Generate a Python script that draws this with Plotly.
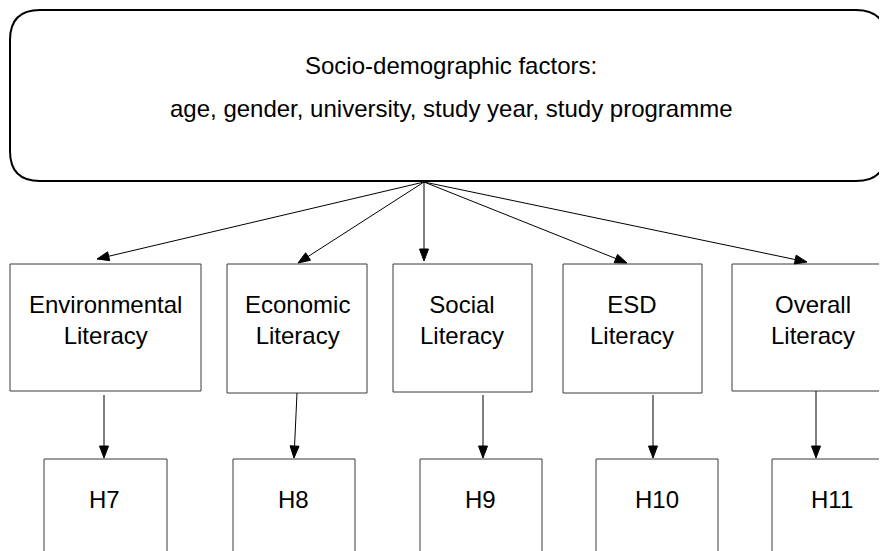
import math
import plotly.graph_objects as go

# ---- content ----
header_lines = ["Socio-demographic factors:",
                "age, gender, university, study year, study programme"]
literacy_labels = ["Environmental<br>Literacy", "Economic<br>Literacy", "Social<br>Literacy",
                   "ESD<br>Literacy", "Overall<br>Literacy"]
hypothesis_labels = ["H7", "H8", "H9", "H10", "H11"]

# ---- layout (pixel space, y downwards) ----
W, H = 887, 551
PAGE_OFFSET = 8  # default body margin of the html page
top_box = (10, 886, 10, 181)
top_radius = 30
header_y = [65, 108]
header_x = 451
mid_boxes = [(10, 201, 264, 391), (227, 367, 264, 393), (393, 532, 264, 392),
             (563, 702, 264, 393), (732, 893, 264, 391)]
mid_text_x = [105, 297, 462, 632, 813]
mid_text_y = 320
bot_boxes = [(44, 167, 459, 570), (233, 355, 459, 570), (420, 542, 459, 570),
             (596, 718, 459, 570), (772, 893, 459, 570)]
bot_text_x = [104, 293, 480, 657, 832]
bot_text_y = 499
fan_origin = (424, 182)
fan_tips = [(97, 259), (298, 263), (424, 261), (627, 263), (807, 262)]
down_arrows = [((104, 395), (104, 458)), ((297, 393), (294, 458)), ((483, 395), (483, 458)),
               ((653, 395), (653, 458)), ((816, 391), (816, 458))]

FONT = "Liberation Sans, Arial, sans-serif"
FS = 24
shapes = []
annotations = []

def rounded_rect(x0, x1, y0, y1, r):
    return (f"M {x0+r},{y0} L {x1-r},{y0} Q {x1},{y0} {x1},{y0+r} "
            f"L {x1},{y1-r} Q {x1},{y1} {x1-r},{y1} L {x0+r},{y1} "
            f"Q {x0},{y1} {x0},{y1-r} L {x0},{y0+r} Q {x0},{y0} {x0+r},{y0} Z")

shapes.append(dict(type="path", path=rounded_rect(*top_box, top_radius), xref="x", yref="y",
                   line=dict(color="#000000", width=2), fillcolor="rgba(0,0,0,0)", layer="above"))

for (x0, x1, y0, y1) in mid_boxes + bot_boxes:
    shapes.append(dict(type="rect", x0=x0, x1=x1, y0=y0, y1=y1, xref="x", yref="y",
                       line=dict(color="#3a3a3a", width=1), fillcolor="rgba(0,0,0,0)"))

def arrow(p0, p1, head_len=12, head_half=4.5):
    (x0, y0), (x1, y1) = p0, p1
    dx, dy = x1 - x0, y1 - y0
    d = math.hypot(dx, dy)
    ux, uy = dx / d, dy / d
    bx, by = x1 - ux * head_len, y1 - uy * head_len
    px, py = -uy, ux
    shapes.append(dict(type="line", x0=x0, y0=y0, x1=bx, y1=by, xref="x", yref="y",
                       line=dict(color="#000000", width=1)))
    path = (f"M {x1},{y1} L {bx + px*head_half},{by + py*head_half} "
            f"L {bx - px*head_half},{by - py*head_half} Z")
    shapes.append(dict(type="path", path=path, xref="x", yref="y",
                       line=dict(color="#000000", width=1), fillcolor="#000000"))

for tip in fan_tips:
    arrow(fan_origin, tip)
for p0, p1 in down_arrows:
    arrow(p0, p1)

for txt, y in zip(header_lines, header_y):
    annotations.append(dict(text=txt, x=header_x, y=y, xref="x", yref="y", showarrow=False,
                            xanchor="center", yanchor="middle",
                            font=dict(family=FONT, size=FS, color="#000000")))
for txt, x in zip(literacy_labels, mid_text_x):
    annotations.append(dict(text=txt, x=x, y=mid_text_y, xref="x", yref="y", showarrow=False,
                            xanchor="center", yanchor="middle", align="center",
                            font=dict(family=FONT, size=FS, color="#000000")))
for txt, x in zip(hypothesis_labels, bot_text_x):
    annotations.append(dict(text=txt, x=x, y=bot_text_y, xref="x", yref="y", showarrow=False,
                            xanchor="center", yanchor="middle",
                            font=dict(family=FONT, size=FS, color="#000000")))

fig = go.Figure()
fig.update_layout(
    width=W - PAGE_OFFSET, height=H - PAGE_OFFSET, margin=dict(l=0, r=0, t=0, b=0),
    paper_bgcolor="white", plot_bgcolor="white",
    xaxis=dict(range=[PAGE_OFFSET, W], visible=False, fixedrange=True),
    yaxis=dict(range=[H, PAGE_OFFSET], visible=False, fixedrange=True),
    shapes=shapes, annotations=annotations, showlegend=False,
)
fig.write_html("out.html", config={"displayModeBar": False})
